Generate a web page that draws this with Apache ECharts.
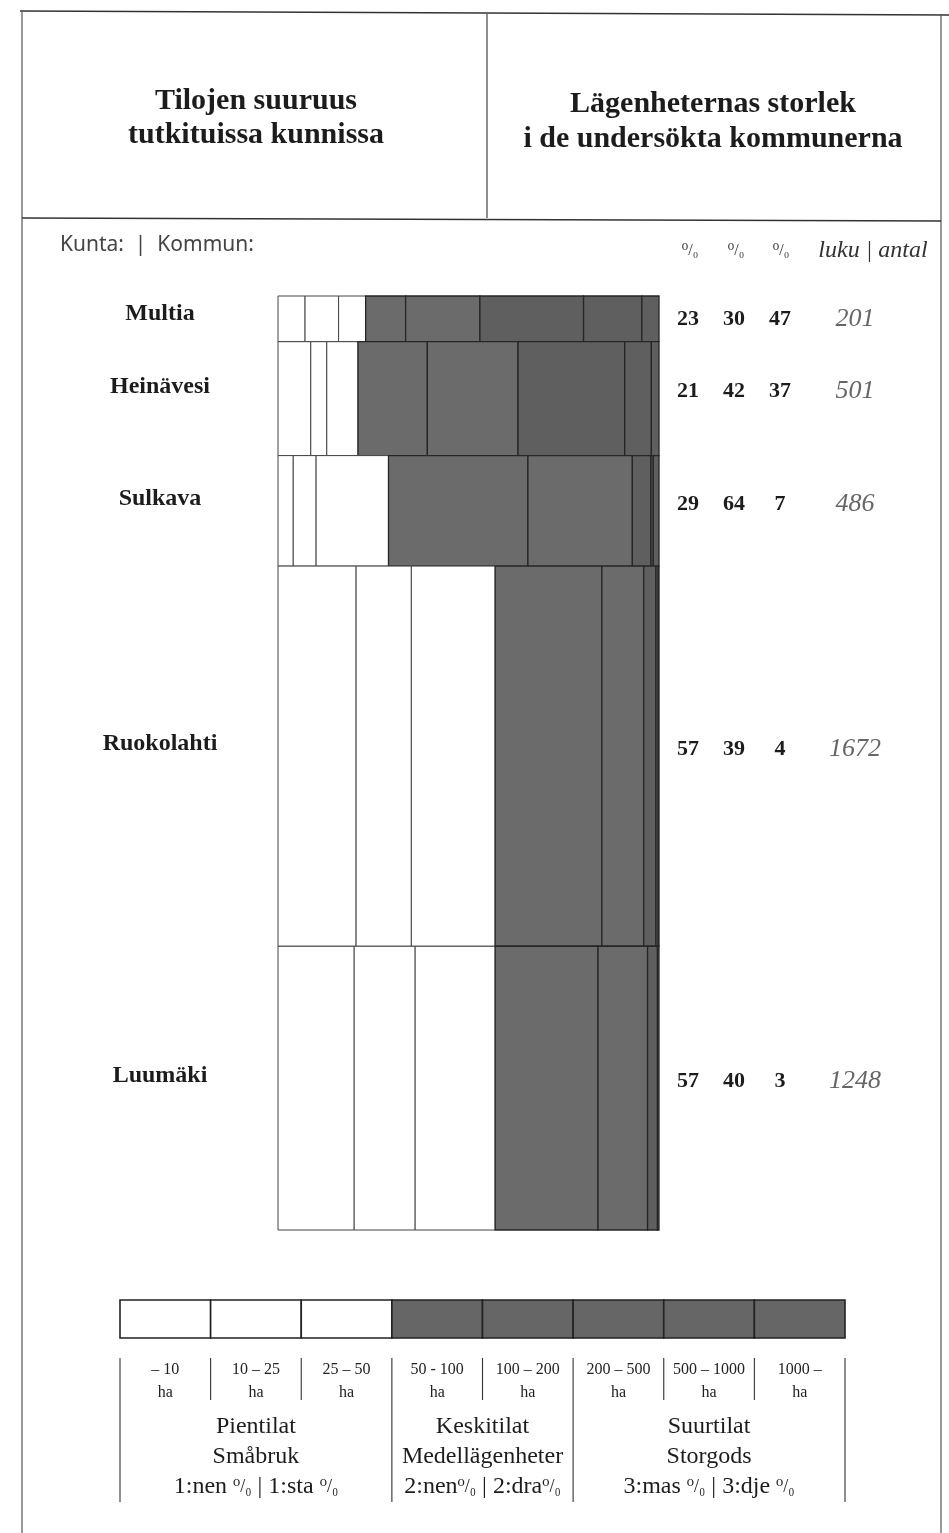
<!DOCTYPE html>
<html>
<head>
<meta charset="utf-8">
<title>Tilojen suuruus tutkituissa kunnissa</title>
<script src="https://cdn.jsdelivr.net/npm/echarts@6/dist/echarts.min.js"></script>
<style>
  html, body { margin: 0; padding: 0; background: #fff; }
  #main { width: 949px; height: 1533px; }
</style>
</head>
<body>
<div id="main"></div>
<script>
// kunnat ja tilojen luku (rivin korkeus ~ luku)
var municipalities = ['Multia', 'Heinävesi', 'Sulkava', 'Ruokolahti', 'Luumäki'];
var farmCounts = [201, 501, 486, 1672, 1248];

// kokoluokat, ha
var sizeClasses = ['– 10', '10 – 25', '25 – 50', '50 - 100', '100 – 200', '200 – 500', '500 – 1000', '1000 –'];
// 0 = pientilat, 1 = keskitilat, 2 = suurtilat
var classGroup = [0, 0, 0, 1, 1, 2, 2, 2];

// osuudet % kokoluokittain (luettu leveyksistä)
var multiaShares     = [7.1, 8.8, 7.1, 10.5, 19.5, 27.2, 15.3, 4.5];
var heinavesiShares  = [8.6, 4.2, 8.2, 18.2, 23.8, 28.0, 7.0, 2.0];
var sulkavaShares    = [4.0, 6.0, 19.0, 36.6, 27.4, 4.9, 0.6, 1.5];
var ruokolahtiShares = [20.5, 14.5, 22.0, 28.0, 11.0, 3.2, 0.6, 0.2];
var luumakiShares    = [20.0, 16.0, 21.0, 27.0, 13.0, 2.6, 0.4, 0.0];

// taulukon luvut
var pctSmall  = [23, 21, 29, 57, 57];
var pctMedium = [30, 42, 64, 39, 40];
var pctLarge  = [47, 37, 7, 4, 3];

// ryhmien nimet; {p|..} = pieni prosenttimerkki
var groupLabels = [
  'Pientilat\nSmåbruk\n1:nen {p|⁰/₀} | 1:sta {p|⁰/₀}',
  'Keskitilat\nMedellägenheter\n2:nen{p|⁰/₀} | 2:dra{p|⁰/₀}',
  'Suurtilat\nStorgods\n3:mas {p|⁰/₀} | 3:dje {p|⁰/₀}'
];

var serif = "'Liberation Serif', 'DejaVu Serif', serif";
var ink = '#1c1c1c';
var fills = ['#ffffff', '#6b6b6b', '#5f5f5f'];
var keyFills = ['#ffffff', '#666666', '#666666'];

var chart = echarts.init(document.getElementById('main'));

// solut
var sharesByRow = [multiaShares, heinavesiShares, sulkavaShares, ruokolahtiShares, luumakiShares];
var cells = [];
var rows = [];
var yStart = 0;
for (var i = 0; i < municipalities.length; i++) {
  var xStart = 0;
  for (var k = 0; k < sizeClasses.length; k++) {
    var w = sharesByRow[i][k];
    if (w > 0) {
      cells.push([xStart, xStart + w, yStart, yStart + farmCounts[i], classGroup[k]]);
    }
    xStart += w;
  }
  rows.push([yStart, yStart + farmCounts[i], i]);
  yStart += farmCounts[i];
}
var totalFarms = yStart;

function renderCell(params, api) {
  var p0 = api.coord([api.value(0), api.value(2)]);
  var p1 = api.coord([api.value(1), api.value(3)]);
  var g = api.value(4);
  return {
    type: 'rect',
    shape: { x: p0[0], y: p0[1], width: p1[0] - p0[0], height: p1[1] - p0[1] },
    style: { fill: fills[g], stroke: g === 0 ? '#444' : '#262626', lineWidth: g === 0 ? 1 : 1.3 }
  };
}

function renderRowText(params, api) {
  var top = api.coord([0, api.value(0)]);
  var bottom = api.coord([100, api.value(1)]);
  var i = api.value(2);
  var h = bottom[1] - top[1];
  var y = (top[1] + bottom[1]) / 2 - Math.min(12, h / 2 - 18);
  var left = top[0], right = bottom[0];
  var numFont = 'bold 22px ' + serif;
  function num(txt, x) {
    return { type: 'text', style: { text: txt, x: x, y: y + 5, align: 'center', verticalAlign: 'middle', font: numFont, fill: ink } };
  }
  return {
    type: 'group',
    children: [
      { type: 'text', style: { text: municipalities[i], x: left - 118, y: y, align: 'center', verticalAlign: 'middle', font: 'bold 24px ' + serif, fill: ink } },
      num(String(pctSmall[i]), right + 29),
      num(String(pctMedium[i]), right + 75),
      num(String(pctLarge[i]), right + 121),
      { type: 'text', style: { text: String(farmCounts[i]), x: right + 196, y: y + 5, align: 'center', verticalAlign: 'middle', font: 'italic 26px ' + serif, fill: '#666' } }
    ]
  };
}

function renderKey(params, api) {
  var t = api.coord([api.value(0), 1]);
  var b = api.coord([api.value(0), 0]);
  var w = api.size([1, 0])[0];
  return {
    type: 'rect',
    shape: { x: t[0] - w / 2, y: t[1], width: w, height: b[1] - t[1] },
    style: { fill: keyFills[api.value(1)], stroke: '#222', lineWidth: 1.6 }
  };
}

// selitteen mitat
var keyLeft = 120, keyWidth = 725, keyTop = 1300, keyHeight = 38;
var keyLineTop = keyTop + keyHeight + 20;

var graphics = [
  // kehys
  { type: 'line', shape: { x1: 20, y1: 11, x2: 949, y2: 15 }, style: { stroke: '#333', lineWidth: 1.5 } },
  { type: 'line', shape: { x1: 22, y1: 11, x2: 22, y2: 1533 }, style: { stroke: '#555', lineWidth: 1.2 } },
  { type: 'line', shape: { x1: 941, y1: 15, x2: 941, y2: 1533 }, style: { stroke: '#555', lineWidth: 1.2 } },
  { type: 'line', shape: { x1: 22, y1: 218, x2: 941, y2: 221 }, style: { stroke: '#333', lineWidth: 1.5 } },
  { type: 'line', shape: { x1: 487, y1: 14, x2: 487, y2: 218 }, style: { stroke: '#444', lineWidth: 1.2 } },
  // otsikot
  { type: 'text', style: { text: 'Tilojen suuruus\ntutkituissa kunnissa', x: 256, y: 118, align: 'center', verticalAlign: 'middle', font: 'bold 30px ' + serif, lineHeight: 34, fill: ink } },
  { type: 'text', style: { text: 'Lägenheternas storlek\ni de undersökta kommunerna', x: 713, y: 122, align: 'center', verticalAlign: 'middle', font: 'bold 30px ' + serif, lineHeight: 35, fill: ink } },
  { type: 'text', style: { text: 'Kunta:  |  Kommun:', x: 60, y: 245, align: 'left', verticalAlign: 'middle', font: "21px 'Noto Sans', sans-serif", fill: '#444' } },
  { type: 'text', style: { text: '⁰/₀', x: 690, y: 251, align: 'center', verticalAlign: 'middle', font: '16px ' + serif, fill: '#333' } },
  { type: 'text', style: { text: '⁰/₀', x: 736, y: 251, align: 'center', verticalAlign: 'middle', font: '16px ' + serif, fill: '#333' } },
  { type: 'text', style: { text: '⁰/₀', x: 781, y: 251, align: 'center', verticalAlign: 'middle', font: '16px ' + serif, fill: '#333' } },
  { type: 'text', style: { text: 'luku | antal', x: 873, y: 251, align: 'center', verticalAlign: 'middle', font: 'italic 24px ' + serif, fill: '#333' } }
];

// rajaviivat selitteen alla: lyhyet kokoluokkien väliin, pitkät ryhmien väliin
for (var b = 0; b <= sizeClasses.length; b++) {
  var bx = keyLeft + keyWidth * b / sizeClasses.length;
  var isGroupEdge = (b === 0 || b === sizeClasses.length || classGroup[b] !== classGroup[b - 1]);
  graphics.push({ type: 'line', shape: { x1: bx, y1: keyLineTop, x2: bx, y2: isGroupEdge ? 1502 : 1400 }, style: { stroke: '#333', lineWidth: 1.1 } });
}
var groupBounds = [0, 3, 5, 8];
for (var gi = 0; gi < 3; gi++) {
  var cx = keyLeft + keyWidth * (groupBounds[gi] + groupBounds[gi + 1]) / 2 / sizeClasses.length;
  graphics.push({
    type: 'text',
    style: {
      text: groupLabels[gi], x: cx, y: 1457, align: 'center', verticalAlign: 'middle',
      fontFamily: serif, fontSize: 24, lineHeight: 30, fill: ink,
      rich: { p: { fontFamily: serif, fontSize: 18, lineHeight: 30, fill: ink } }
    }
  });
}

chart.setOption({
  backgroundColor: '#fff',
  animation: false,
  grid: [
    { left: 278, right: 290, top: 296, bottom: 303 },
    { left: keyLeft, width: keyWidth, top: keyTop, height: keyHeight }
  ],
  xAxis: [
    { type: 'value', gridIndex: 0, min: 0, max: 100, show: false },
    {
      type: 'category', gridIndex: 1, data: sizeClasses, position: 'bottom', offset: 20,
      axisLine: { show: false },
      axisTick: { show: false },
      axisLabel: {
        interval: 0, hideOverlap: false,
        margin: 0, fontFamily: serif, fontSize: 16, lineHeight: 23, color: '#222',
        formatter: function (v) { return v + '\nha'; }
      },
      splitLine: { show: false }
    }
  ],
  yAxis: [
    { type: 'value', gridIndex: 0, min: 0, max: totalFarms, inverse: true, show: false },
    { type: 'value', gridIndex: 1, min: 0, max: 1, show: false }
  ],
  graphic: graphics,
  series: [
    { type: 'custom', xAxisIndex: 0, yAxisIndex: 0, renderItem: renderCell, data: cells },
    { type: 'custom', xAxisIndex: 0, yAxisIndex: 0, renderItem: renderRowText, data: rows, clip: false, z: 5 },
    { type: 'custom', xAxisIndex: 1, yAxisIndex: 1, renderItem: renderKey, data: sizeClasses.map(function (c, k) { return [k, classGroup[k]]; }) }
  ]
});
</script>
</body>
</html>
